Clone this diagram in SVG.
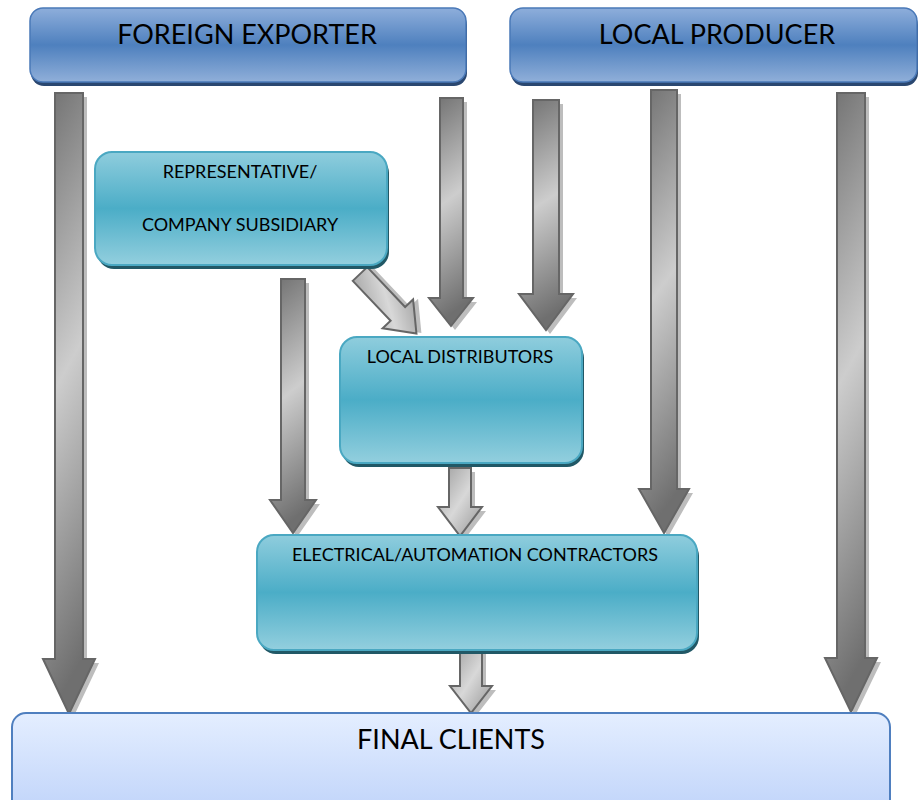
<svg xmlns="http://www.w3.org/2000/svg" xmlns:xlink="http://www.w3.org/1999/xlink" width="919" height="800" viewBox="0 0 919 800">
<style>
text{font-family:Lato,"Liberation Sans",sans-serif;fill:#000;text-anchor:middle}
.big{font-size:27px}
.small{font-size:18px}
.blue{fill:url(#gBlue);stroke:#4a79b8;stroke-width:1.5}
.blueSh{fill:#2a4770}
.teal{fill:url(#gTeal);stroke:#4aa8c2;stroke-width:2}
.tealSh{fill:#215866}
.darr{fill:url(#gDark);stroke:#666;stroke-width:2;stroke-linejoin:miter}
.larr{fill:url(#gLight);stroke:#666;stroke-width:2}
.sh{fill:#bdbdbd;stroke:none}
</style>
<defs>
<linearGradient id="gBlue" x1="0" y1="0" x2="0" y2="1">
<stop offset="0" stop-color="#8eaedb"/>
<stop offset="0.5" stop-color="#4e80be"/>
<stop offset="1" stop-color="#90afd9"/>
</linearGradient>
<linearGradient id="gTeal" x1="0" y1="0" x2="0" y2="1">
<stop offset="0" stop-color="#8fcddd"/>
<stop offset="0.5" stop-color="#4badc7"/>
<stop offset="1" stop-color="#93cfde"/>
</linearGradient>
<linearGradient id="gFinal" x1="0" y1="0" x2="0" y2="1">
<stop offset="0" stop-color="#e4eeff"/>
<stop offset="1" stop-color="#c0d4fa"/>
</linearGradient>
<linearGradient id="gDark" x1="0" y1="0" x2="0.15" y2="1">
<stop offset="0" stop-color="#6f6f6f"/>
<stop offset="0.5" stop-color="#cdcdcd"/>
<stop offset="1" stop-color="#6f6f6f"/>
</linearGradient>
<linearGradient id="gLight" x1="0" y1="0" x2="1" y2="1">
<stop offset="0" stop-color="#9a9a9a"/>
<stop offset="0.5" stop-color="#d8d8d8"/>
<stop offset="1" stop-color="#949494"/>
</linearGradient>
</defs>

<g id="connectors">
<path class="sh" transform="translate(4,4)" d="M55,93 H83 V659 H95 L69,714 L43,659 H55 Z"/>
<path class="darr" d="M55,93 H83 V659 H95 L69,714 L43,659 H55 Z"/>
<path class="sh" transform="translate(4,4)" d="M440,98 H463 V298 H473 L451,326 L429,298 H440 Z"/>
<path class="darr" d="M440,98 H463 V298 H473 L451,326 L429,298 H440 Z"/>
<path class="sh" transform="translate(4,4)" d="M533,100 H559 V294 H573 L546,330 L519,294 H533 Z"/>
<path class="darr" d="M533,100 H559 V294 H573 L546,330 L519,294 H533 Z"/>
<path class="sh" transform="translate(4,4)" d="M651,90 H677 V489 H689 L664,533 L639,489 H651 Z"/>
<path class="darr" d="M651,90 H677 V489 H689 L664,533 L639,489 H651 Z"/>
<path class="sh" transform="translate(4,4)" d="M837,93 H865 V658 H877 L851,712 L825,658 H837 Z"/>
<path class="darr" d="M837,93 H865 V658 H877 L851,712 L825,658 H837 Z"/>
<path class="sh" transform="translate(4,4)" d="M281,279 H305 V500 H316 L293,533 L270,500 H281 Z"/>
<path class="darr" d="M281,279 H305 V500 H316 L293,533 L270,500 H281 Z"/>
<g transform="translate(360,274) rotate(-43.5)">
<path class="sh" transform="translate(4,3)" d="M-10,0 H10 V55 H21 L0,82 L-21,55 H-10 Z"/>
<path class="larr" d="M-10,0 H10 V55 H21 L0,82 L-21,55 H-10 Z"/>
</g>
<path class="sh" transform="translate(4,4)" d="M449,468 H471 V507 H482 L460,536 L438,507 H449 Z"/>
<path class="larr" d="M449,468 H471 V507 H482 L460,536 L438,507 H449 Z"/>
<path class="sh" transform="translate(4,4)" d="M460,647 H482 V686 H492 L471,713 L450,686 H460 Z"/>
<path class="larr" d="M460,647 H482 V686 H492 L471,713 L450,686 H460 Z"/>
</g>

<g id="foreign-exporter">
<rect class="blueSh" x="31" y="12" width="436" height="74" rx="13"/>
<rect class="blue" x="30" y="8" width="436" height="74" rx="13"/>
<text class="big" x="247" y="44">FOREIGN EXPORTER</text>
</g>

<g id="local-producer">
<rect class="blueSh" x="511" y="12" width="407" height="74" rx="13"/>
<rect class="blue" x="510" y="8" width="407" height="74" rx="13"/>
<text class="big" x="717" y="44">LOCAL PRODUCER</text>
</g>

<g id="representative">
<rect class="tealSh" x="97" y="156" width="292" height="113" rx="17"/>
<rect class="teal" x="95" y="152" width="292" height="113" rx="17"/>
<text class="small" x="240" y="178">REPRESENTATIVE/</text>
<text class="small" x="240" y="231">COMPANY SUBSIDIARY</text>
</g>

<g id="local-distributors">
<rect class="tealSh" x="342" y="341" width="242" height="126" rx="17"/>
<rect class="teal" x="340" y="337" width="242" height="126" rx="17"/>
<text class="small" x="460" y="363">LOCAL DISTRIBUTORS</text>
</g>

<g id="contractors">
<rect class="tealSh" x="259" y="539" width="440" height="115" rx="17"/>
<rect class="teal" x="257" y="535" width="440" height="115" rx="17"/>
<text class="small" x="475" y="561">ELECTRICAL/AUTOMATION CONTRACTORS</text>
</g>

<g id="final-clients">
<rect x="12" y="713" width="878" height="100" rx="14" fill="url(#gFinal)" stroke="#4f7fbf" stroke-width="2"/>
<text class="big" x="451" y="749">FINAL CLIENTS</text>
</g>
</svg>
